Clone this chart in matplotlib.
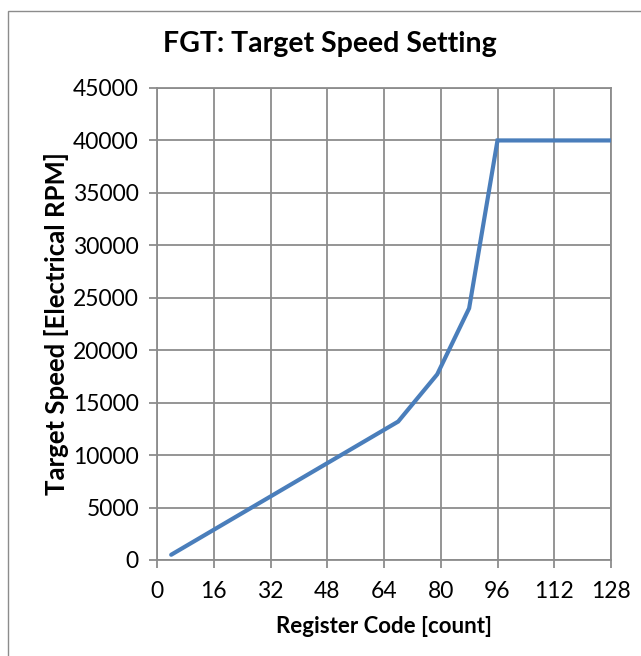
import matplotlib.pyplot as plt
from matplotlib.patches import Rectangle

plt.rcParams['font.family'] = ['Lato', 'DejaVu Sans']

# data
register_code = [4, 68, 79, 88, 96, 128]
target_speed = [500, 13200, 17700, 24000, 40000, 40000]
x_ticks = [0, 16, 32, 48, 64, 80, 96, 112, 128]
y_ticks = [0, 5000, 10000, 15000, 20000, 25000, 30000, 35000, 40000, 45000]

grid_color = '#8c8c8c'

fig = plt.figure(figsize=(6.41, 6.56), dpi=100)
ax = fig.add_axes([157 / 641, 1 - 560 / 656, 454 / 641, 472 / 656])

# chart area frame (Excel style)
fig.patches.append(Rectangle((8 / 641, -0.1), 1.2, 1 - 11 / 656 + 0.1,
                             transform=fig.transFigure, fill=False,
                             edgecolor='#8c8c8c', linewidth=1.0))

ax.plot(register_code, target_speed, color='#4a7ebb', linewidth=3.0,
        solid_capstyle='round', solid_joinstyle='miter', zorder=3)

ax.set_xlim(0, 128)
ax.set_ylim(0, 45000)
ax.set_xticks(x_ticks)
ax.set_yticks(y_ticks)
ax.grid(True, color=grid_color, linewidth=1.3)
ax.set_axisbelow(True)
for s in ax.spines.values():
    s.set_color(grid_color)
    s.set_linewidth(1.3)
ax.tick_params(axis='both', colors=grid_color, length=6, width=1.3,
               labelcolor='black', labelsize=16.5)
ax.tick_params(axis='x', pad=9)
ax.tick_params(axis='y', pad=7)

# title is centred on the chart area, not on the plot
fig.text(330 / 641, 1 - 44 / 656, 'FGT: Target Speed Setting', fontsize=20.5,
         fontweight='bold', ha='center', va='center')
ax.set_xlabel('Register Code [count]', fontsize=16, fontweight='bold', labelpad=10)
ax.set_ylabel('Target Speed [Electrical RPM]', fontsize=18.5, fontweight='bold', labelpad=3)

fig.savefig('out.png', dpi=100)
